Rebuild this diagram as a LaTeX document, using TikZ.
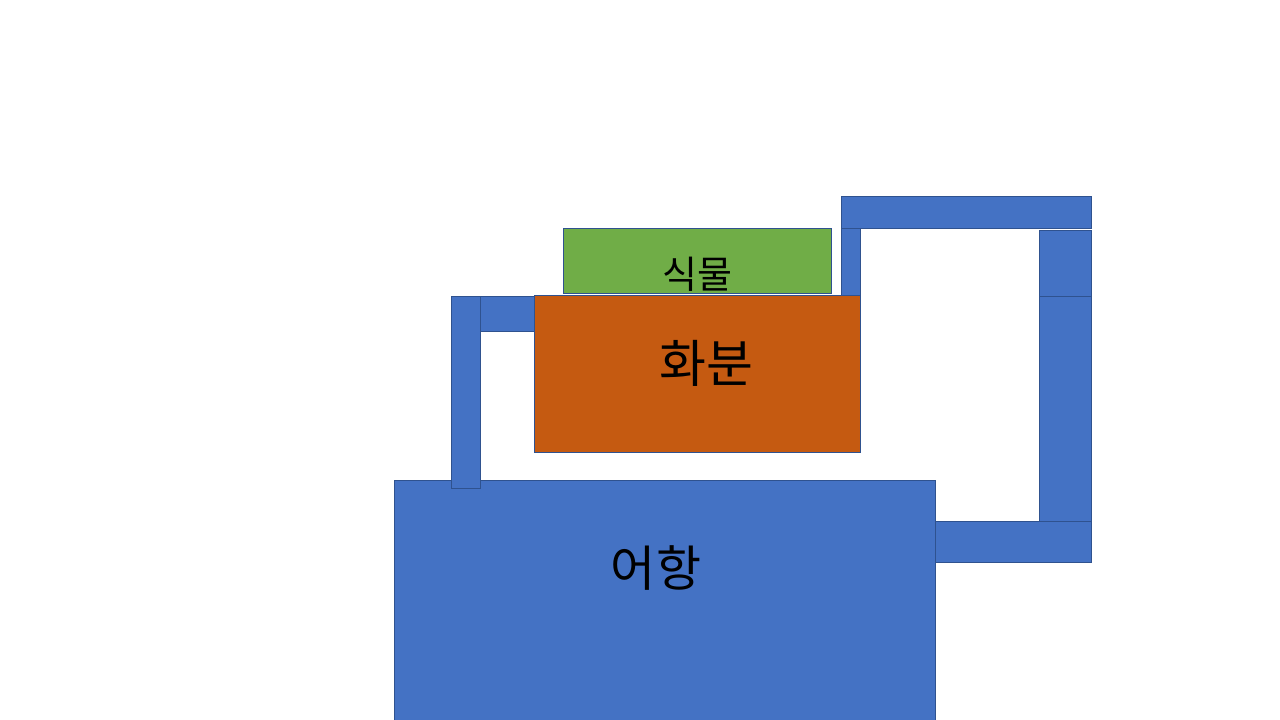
\documentclass[tikz,border=0pt]{standalone}
\usepackage{fontspec}
\newfontfamily\kofont{Noto Sans CJK KR}
\usetikzlibrary{positioning}
\definecolor{pipeblue}{HTML}{4472C4}
\definecolor{pipeedge}{HTML}{2F528F}
\definecolor{potorange}{HTML}{C55A11}
\definecolor{plantgreen}{HTML}{70AD47}

\begin{document}
\begin{tikzpicture}[x=1pt, y=-1pt, line width=0.8pt,
	pipe/.style={draw=pipeedge, fill=pipeblue},
	label/.style={font=\kofont, text=black, inner sep=0pt}]
				\useasboundingbox (0,0) rectangle (1280,720);

				% pipe over the top
				\draw[pipe] (841,196) rectangle (1091,228);
				\draw[pipe] (841,228) rectangle (860,296);
				\draw[pipe] (1039,230) rectangle (1091,296);
				\draw[pipe] (1039,296) rectangle (1091,521);

				% pipe on the left
				\draw[pipe] (480,296) rectangle (534,331);

				\draw[draw=pipeedge, fill=plantgreen] (563,228) rectangle (831,293);
				\node[label, font=\kofont\fontsize{38}{40}\selectfont] (plant) at (697,274) {식물};

				\draw[draw=pipeedge, fill=potorange] (534,295) rectangle (860,452);
				\node[label, font=\kofont\fontsize{51}{54}\selectfont] (pot) at (706,363) {화분};

				\draw[pipe] (394,480) rectangle (935,722);
				\node[label, font=\kofont\fontsize{49}{52}\selectfont] (tank) at (656,568) {어항};

				\draw[pipe] (451,296) rectangle (480,488);
				\draw[pipe] (935,521) rectangle (1091,562);
			\end{tikzpicture}
\end{document}
